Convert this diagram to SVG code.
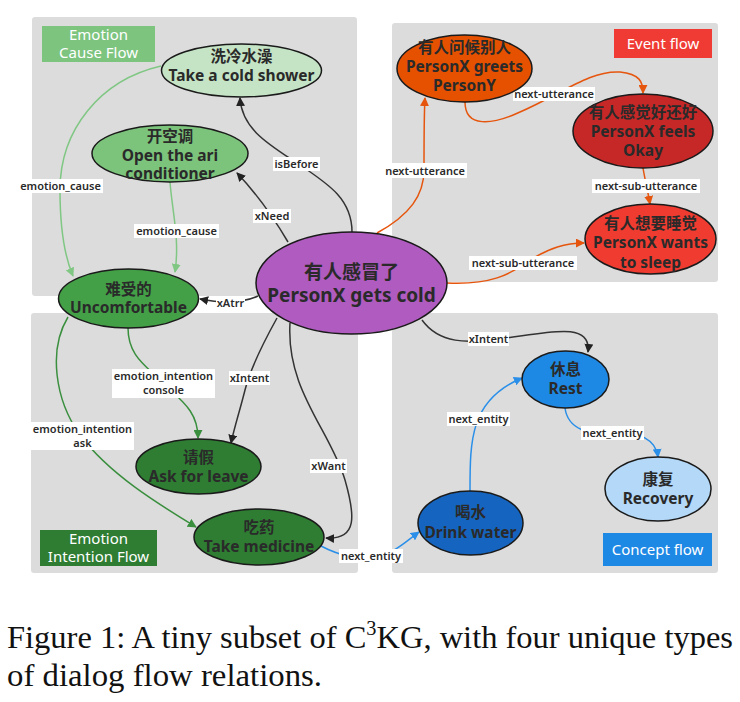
<svg xmlns="http://www.w3.org/2000/svg" width="740" height="702" viewBox="0 0 740 702">
<style>
.panel{fill:#dcdcdc}
.node{stroke:#1a1a1a;stroke-width:1.5}
.nt{font-family:"Noto Sans","Noto Sans CJK SC",sans-serif;font-weight:bold;font-size:15.5px;fill:#2a2a2a;text-anchor:middle}
.big{font-size:19px}
.e{fill:none;stroke-width:1.5}
.blk{stroke:#333}
.lg{stroke:#7fc783}
.dg{stroke:#3a8f3e}
.or{stroke:#e6550d}
.bl{stroke:#2a8fe8}
.lb{fill:#fff}
.lt{font-family:"Noto Sans","Noto Sans CJK SC",sans-serif;font-weight:600;font-size:11px;fill:#2a2a2a;text-anchor:middle}
.pt{font-family:"Noto Sans","Open Sans",sans-serif;font-size:15px;fill:#fff;text-anchor:middle}
.cap{font-family:"Liberation Serif","Times New Roman",serif;font-size:32px;fill:#111}
</style>
<defs>
<marker id="aK" viewBox="0 0 10 10" refX="9" refY="5" markerWidth="9" markerHeight="9" markerUnits="userSpaceOnUse" orient="auto"><path d="M0,0L10,5L0,10z" fill="#222"/></marker>
<marker id="aLG" viewBox="0 0 10 10" refX="9" refY="5" markerWidth="9" markerHeight="9" markerUnits="userSpaceOnUse" orient="auto"><path d="M0,0L10,5L0,10z" fill="#7fc783"/></marker>
<marker id="aDG" viewBox="0 0 10 10" refX="9" refY="5" markerWidth="9" markerHeight="9" markerUnits="userSpaceOnUse" orient="auto"><path d="M0,0L10,5L0,10z" fill="#3a8f3e"/></marker>
<marker id="aOR" viewBox="0 0 10 10" refX="9" refY="5" markerWidth="9" markerHeight="9" markerUnits="userSpaceOnUse" orient="auto"><path d="M0,0L10,5L0,10z" fill="#e6550d"/></marker>
<marker id="aBL" viewBox="0 0 10 10" refX="9" refY="5" markerWidth="9" markerHeight="9" markerUnits="userSpaceOnUse" orient="auto"><path d="M0,0L10,5L0,10z" fill="#2a8fe8"/></marker>
</defs>
<rect width="740" height="702" fill="#fff"/>
<g id="panels">
<rect class="panel" x="32" y="17" width="325" height="279" rx="3"/>
<rect class="panel" x="392" y="23" width="326" height="259" rx="3"/>
<rect class="panel" x="31" y="313" width="327" height="260" rx="3"/>
<rect class="panel" x="392" y="313" width="326" height="260" rx="3"/>
<rect x="42" y="26" width="113" height="36" fill="#7dc47f"/>
<text class="pt" x="98.5" y="40">Emotion</text>
<text class="pt" x="98.5" y="58">Cause Flow</text>
<rect x="614" y="29" width="98" height="29" fill="#ef3b34"/>
<text class="pt" x="663" y="49">Event flow</text>
<rect x="40" y="530" width="117" height="36" fill="#2e7d32"/>
<text class="pt" x="98.5" y="544">Emotion</text>
<text class="pt" x="98.5" y="562">Intention Flow</text>
<rect x="603" y="533" width="109" height="33" fill="#1e88e5"/>
<text class="pt" x="657.5" y="555">Concept flow</text>
</g>
<g id="connectors">
<path class="e lg" d="M161,66 C100,80 60,130 60,190 C60,230 64,255 73,276" marker-end="url(#aLG)"/>
<path class="e lg" d="M170,182 C172,210 180,240 175,272" marker-end="url(#aLG)"/>
<path class="e blk" d="M352,232 C352,200 330,185 300,165 C270,145 242,130 240,98" marker-end="url(#aK)"/>
<path class="e blk" d="M288,242 C275,220 258,195 237,173" marker-end="url(#aK)"/>
<path class="e blk" d="M258,296 C245,302 225,304 200,299" marker-end="url(#aK)"/>
<path class="e blk" d="M277,318 C262,345 250,370 245,390 C240,410 235,425 231,443" marker-end="url(#aK)"/>
<path class="e blk" d="M290,323 C286,390 330,430 345,480 C355,515 358,540 326,538" marker-end="url(#aK)"/>
<path class="e dg" d="M128,328 C128,355 145,365 160,380 C180,400 198,410 198,438" marker-end="url(#aDG)"/>
<path class="e dg" d="M68,317 C48,350 55,400 80,435 C110,475 160,505 196,527" marker-end="url(#aDG)"/>
<path class="e bl" d="M321,546 C340,556 360,560 375,557 C395,553 405,542 419,532" marker-end="url(#aBL)"/>
<path class="e bl" d="M470,491 C470,440 470,400 522,378" marker-end="url(#aBL)"/>
<path class="e bl" d="M565,408 C568,430 590,435 612,433 C640,431 656,440 658,457" marker-end="url(#aBL)"/>
<path class="e blk" d="M422,320 C440,345 470,342 490,340 C540,335 592,318 588,352" marker-end="url(#aK)"/>
<path class="e or" d="M377,233 C410,215 424,195 424,170 C424,140 424,115 425,98" marker-end="url(#aOR)"/>
<path class="e or" d="M465,102 C465,128 492,125 520,112 C560,95 590,70 620,72 C640,74 643,82 643,93" marker-end="url(#aOR)"/>
<path class="e or" d="M643,168 C645,180 648,192 650,204" marker-end="url(#aOR)"/>
<path class="e or" d="M447,283 C490,285 510,275 530,260 C550,248 565,243 584,243" marker-end="url(#aOR)"/>
</g>
<g id="edge-labels">
<rect class="lb" x="18" y="179" width="85" height="14"/><text class="lt" x="60.5" y="190">emotion_cause</text>
<rect class="lb" x="134" y="224" width="85" height="14"/><text class="lt" x="176.5" y="235">emotion_cause</text>
<rect class="lb" x="273" y="157" width="47" height="14"/><text class="lt" x="296.5" y="168">isBefore</text>
<rect class="lb" x="253" y="209" width="38" height="14"/><text class="lt" x="272" y="220">xNeed</text>
<rect class="lb" x="216" y="296" width="29" height="14"/><text class="lt" x="230.5" y="307">xAtrr</text>
<rect class="lb" x="229" y="371" width="41" height="14"/><text class="lt" x="249.5" y="382">xIntent</text>
<rect class="lb" x="112" y="369" width="103" height="29"/><text class="lt" x="163.5" y="380">emotion_intention</text><text class="lt" x="163.5" y="394">console</text>
<rect class="lb" x="31" y="422" width="103" height="28"/><text class="lt" x="82.5" y="433">emotion_intention</text><text class="lt" x="82.5" y="447">ask</text>
<rect class="lb" x="310" y="459" width="37" height="14"/><text class="lt" x="328.5" y="470">xWant</text>
<rect class="lb" x="339" y="549" width="64" height="14"/><text class="lt" x="371" y="560">next_entity</text>
<rect class="lb" x="447" y="412" width="63" height="14"/><text class="lt" x="478.5" y="423">next_entity</text>
<rect class="lb" x="581" y="426" width="63" height="14"/><text class="lt" x="612.5" y="437">next_entity</text>
<rect class="lb" x="468" y="332" width="41" height="14"/><text class="lt" x="488.5" y="343">xIntent</text>
<rect class="lb" x="383" y="163" width="84" height="15"/><text class="lt" x="425" y="174.5">next-utterance</text>
<rect class="lb" x="513" y="87" width="82" height="14"/><text class="lt" x="554" y="98">next-utterance</text>
<rect class="lb" x="592" y="179" width="108" height="14"/><text class="lt" x="646" y="190">next-sub-utterance</text>
<rect class="lb" x="469" y="256" width="108" height="14"/><text class="lt" x="523" y="267">next-sub-utterance</text>
</g>
<g id="n-shower"><ellipse class="node" cx="241.5" cy="70.5" rx="80" ry="26.5" fill="#c5e4c6"/><text class="nt" x="241.5" y="62">洗冷水澡</text><text class="nt" x="241.5" y="81">Take a cold shower</text></g>
<g id="n-aircon"><ellipse class="node" cx="170" cy="153.5" rx="78" ry="28.5" fill="#7cc47b"/><text class="nt" x="170" y="142">开空调</text><text class="nt" x="170" y="161">Open the ari</text><text class="nt" x="170" y="179">conditioner</text></g>
<g id="n-uncomf"><ellipse class="node" cx="128.5" cy="298.5" rx="70" ry="29.5" fill="#43a047"/><text class="nt" x="128.5" y="295">难受的</text><text class="nt" x="128.5" y="313">Uncomfortable</text></g>
<g id="n-cold"><ellipse class="node" cx="351.5" cy="283" rx="95.5" ry="51" fill="#af5bbf"/><text class="nt big" x="351.5" y="279">有人感冒了</text><text class="nt big" x="351.5" y="302">PersonX gets cold</text></g>
<g id="n-greets"><ellipse class="node" cx="464.5" cy="68.5" rx="67.5" ry="33.5" fill="#e65100"/><text class="nt" x="464.5" y="53">有人问候别人</text><text class="nt" x="464.5" y="72">PersonX greets</text><text class="nt" x="464.5" y="91">PersonY</text></g>
<g id="n-okay"><ellipse class="node" cx="643" cy="131" rx="70" ry="37" fill="#c62828"/><text class="nt" x="643" y="118">有人感觉好还好</text><text class="nt" x="643" y="137">PersonX feels</text><text class="nt" x="643" y="156">Okay</text></g>
<g id="n-sleep"><ellipse class="node" cx="650.5" cy="239" rx="65.5" ry="35" fill="#f03c30"/><text class="nt" x="650.5" y="229">有人想要睡觉</text><text class="nt" x="650.5" y="248">PersonX wants</text><text class="nt" x="650.5" y="268">to sleep</text></g>
<g id="n-leave"><ellipse class="node" cx="198.5" cy="466.5" rx="62.5" ry="27.5" fill="#2e7d32"/><text class="nt" x="198.5" y="463">请假</text><text class="nt" x="198.5" y="482">Ask for leave</text></g>
<g id="n-medicine"><ellipse class="node" cx="259" cy="537" rx="65" ry="28" fill="#2e7d32"/><text class="nt" x="259" y="533">吃药</text><text class="nt" x="259" y="552">Take medicine</text></g>
<g id="n-rest"><ellipse class="node" cx="565.5" cy="379.5" rx="43.5" ry="28.5" fill="#1e88e5"/><text class="nt" x="565.5" y="375">休息</text><text class="nt" x="565.5" y="394">Rest</text></g>
<g id="n-recovery"><ellipse class="node" cx="658" cy="489" rx="53" ry="32" fill="#b3d8f8"/><text class="nt" x="658" y="485">康复</text><text class="nt" x="658" y="504">Recovery</text></g>
<g id="n-water"><ellipse class="node" cx="470.5" cy="523" rx="52.5" ry="32" fill="#1565c0"/><text class="nt" x="470.5" y="518">喝水</text><text class="nt" x="470.5" y="538">Drink water</text></g>
<g id="caption">
<text class="cap" x="7" y="648" textLength="726" lengthAdjust="spacingAndGlyphs">Figure 1: A tiny subset of C<tspan font-size="20" dy="-13">3</tspan><tspan dy="13">KG, with four unique types</tspan></text>
<text class="cap" x="7" y="686" textLength="315" lengthAdjust="spacingAndGlyphs">of dialog flow relations.</text>
</g>
</svg>
